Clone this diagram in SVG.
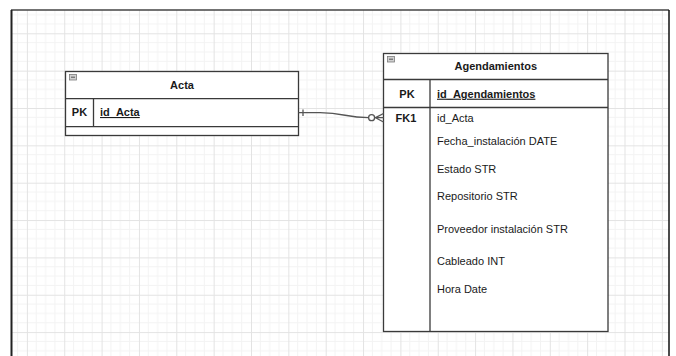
<svg xmlns="http://www.w3.org/2000/svg" width="676" height="356" viewBox="0 0 676 356">
  <style>
    text { font-family: "Liberation Sans", Arial, sans-serif; font-size: 11px; fill: #1a1a1a; }
    .title { font-weight: bold; text-anchor: middle; }
    .key { font-weight: bold; text-anchor: middle; }
    .pk { font-weight: bold; text-decoration: underline; }
    .box { fill: #ffffff; stroke: #3a3a3a; stroke-width: 1.3; }
    .rule { stroke: #3a3a3a; stroke-width: 1.3; fill: none; }
    .icon { fill: #cfcfcf; stroke: #7a7a7a; stroke-width: 0.8; }
    .edge { stroke: #555555; stroke-width: 1.3; fill: none; }
  </style>
  <defs>
    <pattern id="grid" x="26.9" y="33.3" width="37.35" height="37.35" patternUnits="userSpaceOnUse">
      <path d="M9.34 0V37.35M18.68 0V37.35M28.01 0V37.35M0 9.34H37.35M0 18.68H37.35M0 28.01H37.35" stroke="#f3f3f3" stroke-width="1" fill="none"/>
      <path d="M0.5 0V37.35M0 0.5H37.35" stroke="#e3e3e3" stroke-width="1" fill="none"/>
    </pattern>
  </defs>

  <!-- page background and grid -->
  <rect x="0" y="0" width="676" height="356" fill="#ffffff"/>
  <rect x="11" y="10" width="658" height="346" fill="url(#grid)"/>

  <!-- canvas frame -->
  <g id="frame">
    <line x1="11" y1="10" x2="669" y2="10" stroke="#444444" stroke-width="1.5"/>
    <line x1="11.5" y1="10" x2="11.5" y2="356" stroke="#222222" stroke-width="2"/>
    <line x1="669" y1="10" x2="669" y2="356" stroke="#111111" stroke-width="1.5"/>
  </g>

  <!-- entity: Acta -->
  <g id="acta">
    <rect class="box" x="65.5" y="71.5" width="233" height="64"/>
    <line class="rule" x1="65.5" y1="98.7" x2="298.5" y2="98.7"/>
    <line class="rule" x1="65.5" y1="126.7" x2="298.5" y2="126.7"/>
    <line class="rule" x1="93.5" y1="98.7" x2="93.5" y2="126.7"/>
    <rect class="icon" x="69.5" y="74.5" width="7" height="5.5"/>
    <line x1="71" y1="77.2" x2="75" y2="77.2" stroke="#555555" stroke-width="1"/>
    <text class="title" x="182" y="89">Acta</text>
    <text class="key" x="79.5" y="116">PK</text>
    <text class="pk" x="100" y="116">id_Acta</text>
  </g>

  <!-- entity: Agendamientos -->
  <g id="agendamientos">
    <rect class="box" x="383.5" y="53.5" width="224.5" height="278"/>
    <line class="rule" x1="383.5" y1="79.5" x2="608" y2="79.5"/>
    <line class="rule" x1="383.5" y1="107.5" x2="608" y2="107.5"/>
    <line class="rule" x1="430" y1="79.5" x2="430" y2="331.5"/>
    <rect class="icon" x="387.5" y="56.5" width="7" height="5.5"/>
    <line x1="389" y1="59.2" x2="393" y2="59.2" stroke="#555555" stroke-width="1"/>
    <text class="title" x="495.75" y="70">Agendamientos</text>
    <text class="key" x="407" y="97.7">PK</text>
    <text class="pk" x="437" y="97.7">id_Agendamientos</text>
    <text class="key" x="406" y="121.5">FK1</text>
    <text x="437" y="121.5">id_Acta</text>
    <text x="437" y="145">Fecha_instalación DATE</text>
    <text x="437" y="172.7">Estado STR</text>
    <text x="437" y="200">Repositorio STR</text>
    <text x="437" y="233">Proveedor instalación STR</text>
    <text x="437" y="265">Cableado INT</text>
    <text x="437" y="293">Hora Date</text>
  </g>

  <!-- relationship: one Acta to zero-or-many Agendamientos -->
  <g id="connectors">
    <path class="edge" d="M298.5 112.7H320C345 112.7 345 117.7 368.5 117.7"/>
    <line class="edge" x1="303" y1="109.5" x2="303" y2="116"/>
    <circle cx="371.6" cy="117.7" r="3" fill="#ffffff" stroke="#555555" stroke-width="1.3"/>
    <path class="edge" d="M374.6 117.7H383.5M375.5 117.7L383.5 113.5M375.5 117.7L383.5 122"/>
  </g>
</svg>
